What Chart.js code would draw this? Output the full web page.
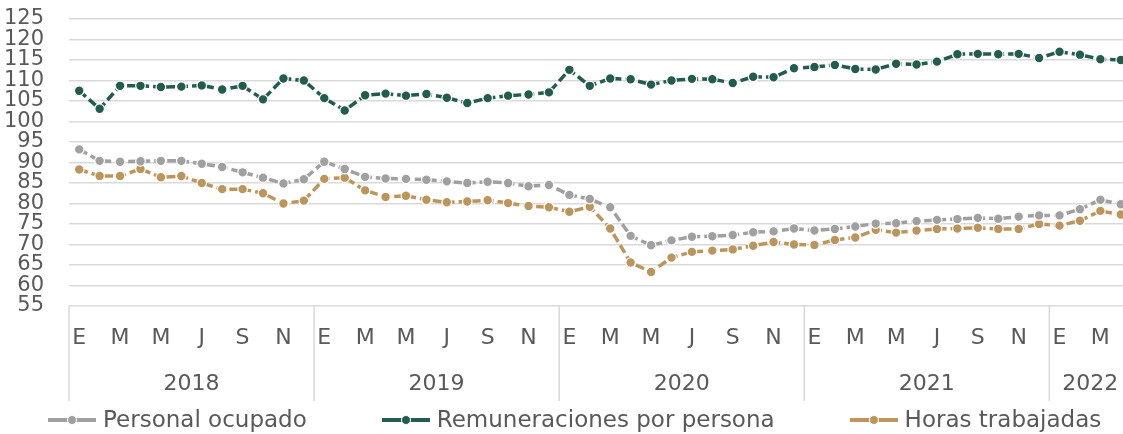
<!DOCTYPE html>
<html>
<head>
<meta charset="utf-8">
<script src="https://cdn.jsdelivr.net/npm/chart.js@4/dist/chart.umd.min.js"></script>
<style>
  body { margin: 0; background: #fff; overflow: hidden; }
  #wrap { position: relative; width: 1131px; height: 434px; overflow: hidden; }
  #chart { width: 1131px; height: 434px; display: block; }
  #legend {
    position: absolute; left: 48px; top: 406px;
    display: flex; gap: 75px; align-items: center;
    font: 23px "DejaVu Sans", sans-serif; color: #595959; line-height: 27px; white-space: nowrap;
  }
  .item { display: flex; align-items: center; }
  .mark { position: relative; width: 48px; height: 4px; margin-right: 7px; }
  .mark i { position: absolute; left: 19px; top: -3px; width: 8px; height: 8px; border-radius: 50%; border: 1px solid #fff; }
</style>
</head>
<body>
<div id="wrap">
  <canvas id="chart" width="1131" height="434"></canvas>
  <div id="legend"></div>
</div>
<script>
const meses = ["E", "F", "M", "A", "M", "J", "J", "A", "S", "O", "N", "D"];
const anios = ["2018", "2019", "2020", "2021", "2022"];
const nMeses = 52;

const personal = [93.2, 90.4, 90.2, 90.3, 90.4, 90.4, 89.7, 88.9, 87.6, 86.3, 84.9, 85.9,
  90.2, 88.4, 86.5, 86.1, 86.0, 85.8, 85.4, 85.0, 85.3, 85.0, 84.2, 84.5,
  82.1, 81.1, 79.1, 72.1, 69.8, 71.0, 71.9, 72.0, 72.3, 73.0, 73.2, 73.9,
  73.4, 73.8, 74.4, 75.1, 75.2, 75.7, 76.0, 76.2, 76.5, 76.3, 76.8, 77.1,
  77.1, 78.6, 80.9, 79.8];
const remuneraciones = [107.5, 103.1, 108.7, 108.7, 108.4, 108.5, 108.8, 107.8, 108.7, 105.4, 110.5, 110.0,
  105.7, 102.7, 106.4, 106.8, 106.3, 106.7, 105.8, 104.5, 105.7, 106.3, 106.6, 107.1,
  112.6, 108.7, 110.5, 110.3, 109.0, 110.0, 110.4, 110.3, 109.4, 110.9, 110.8, 113.0,
  113.3, 113.8, 112.8, 112.7, 114.1, 113.9, 114.6, 116.4, 116.5, 116.4, 116.5, 115.5,
  117.0, 116.3, 115.2, 115.0];
const horas = [88.3, 86.7, 86.7, 88.4, 86.4, 86.7, 85.0, 83.5, 83.5, 82.5, 80.0, 80.7,
  86.0, 86.3, 83.2, 81.6, 81.9, 80.9, 80.3, 80.5, 80.8, 80.1, 79.4, 79.1,
  78.0, 79.2, 73.9, 65.6, 63.3, 66.8, 68.2, 68.5, 68.8, 69.7, 70.6, 70.0,
  69.9, 71.1, 71.7, 73.6, 72.9, 73.4, 73.8, 73.9, 74.1, 73.8, 73.8, 75.0,
  74.6, 75.8, 78.2, 77.3];

const labels = [];
for (let i = 0; i < nMeses; i++) labels.push(meses[i % 12]);

const FONT = "'DejaVu Sans', sans-serif";
const TXT = "#595959";
const GRID = "#d9d9d9";

function serie(label, data, color) {
  return {
    label,
    data,
    borderColor: color,
    backgroundColor: color,
    borderWidth: 3.5,
    borderDash: [9, 4],
    pointRadius: 4.8,
    pointHoverRadius: 4.8,
    pointBackgroundColor: color,
    pointBorderColor: "#fff",
    pointBorderWidth: 1.2,
    tension: 0,
    fill: false,
  };
}

// year row + separators below the month labels
const yearAxis = {
  id: "yearAxis",
  afterDraw(chart) {
    const { ctx, chartArea } = chart;
    const x = chart.scales.x;
    ctx.save();
    ctx.strokeStyle = GRID;
    ctx.lineWidth = 1.5;
    ctx.fillStyle = TXT;
    ctx.font = "22px " + FONT;
    ctx.textAlign = "center";
    ctx.textBaseline = "middle";
    anios.forEach((a, k) => {
      const first = k * 12;
      const last = Math.min(first + 11, nMeses - 1);
      const sep = first === 0 ? chartArea.left : (x.getPixelForValue(first - 1) + x.getPixelForValue(first)) / 2;
      ctx.beginPath();
      ctx.moveTo(sep, chartArea.bottom);
      ctx.lineTo(sep, 401);
      ctx.stroke();
      const mid = (x.getPixelForValue(first) + x.getPixelForValue(last)) / 2;
      ctx.fillText(a, mid, 384);
    });
    ctx.restore();
  },
};

const chart = new Chart(document.getElementById("chart"), {
  type: "line",
  data: {
    labels,
    datasets: [
      serie("Personal ocupado", personal, "#a0a0a0"),
      serie("Remuneraciones por persona", remuneraciones, "#235b4e"),
      serie("Horas trabajadas", horas, "#bc955c"),
    ],
  },
  options: {
    responsive: false,
    animation: false,
    layout: { autoPadding: false, padding: { top: 19, left: 0, right: 0, bottom: 0 } },
    plugins: { legend: { display: false }, tooltip: { enabled: false } },
    scales: {
      x: {
        offset: true,
        grid: { display: true, drawOnChartArea: false, color: "transparent", tickColor: "transparent", drawTicks: true, tickLength: 19 },
        border: { display: false },
        ticks: {
          color: TXT,
          font: { family: FONT, size: 22 },
          padding: 0,
          autoSkip: false,
          maxRotation: 0,
          callback(v, i) { return i % 2 === 0 ? this.getLabelForValue(v) : ""; },
        },
        afterFit(scale) { scale.height = 128; },
      },
      y: {
        min: 55,
        max: 125,
        grid: { color: GRID, lineWidth: 1.5, drawTicks: true, tickLength: 25, tickColor: "transparent" },
        border: { display: false },
        ticks: { stepSize: 5, autoSkip: false, color: TXT, font: { family: FONT, size: 21 }, padding: 0 },
        afterFit(scale) { scale.width = 69; },
      },
    },
  },
  plugins: [yearAxis],
});

// html legend from the chart's own datasets
const legendEl = document.getElementById("legend");
chart.data.datasets.forEach(ds => {
  const item = document.createElement("div");
  item.className = "item";
  item.innerHTML = `<span class="mark" style="background:${ds.borderColor}"><i style="background:${ds.borderColor}"></i></span><span>${ds.label}</span>`;
  legendEl.appendChild(item);
});
</script>
</body>
</html>
